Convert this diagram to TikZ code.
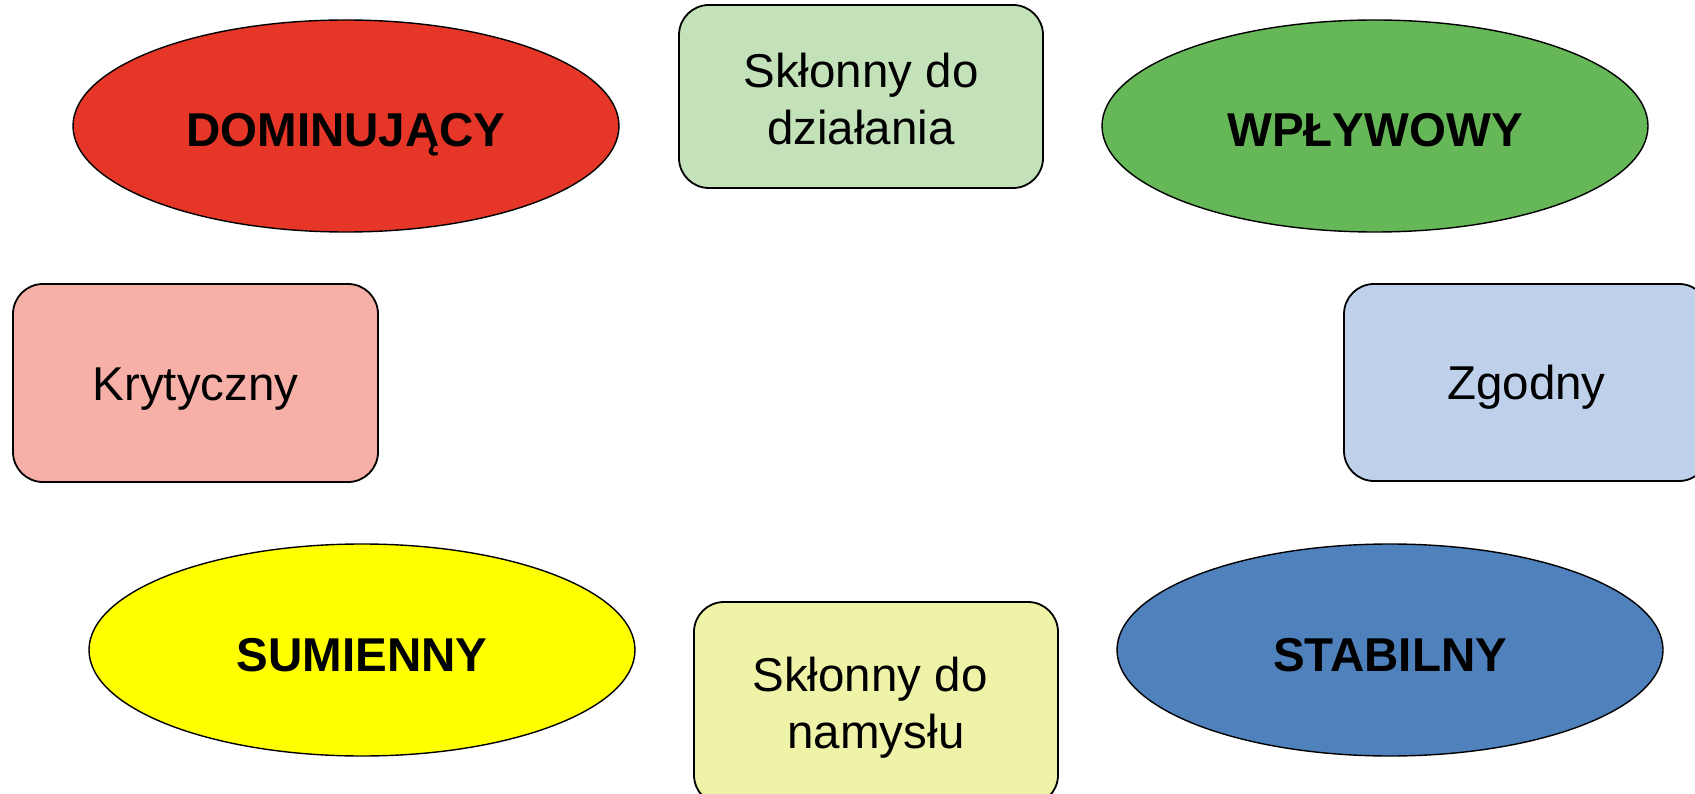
\documentclass[tikz,border=0pt]{standalone}
\usepackage{fontspec}
\setmainfont{Liberation Sans}
\usetikzlibrary{shapes.geometric}
\definecolor{domred}{RGB}{229,54,39}
\definecolor{infgreen}{RGB}{101,183,88}
\definecolor{sumyellow}{RGB}{255,255,0}
\definecolor{stabblue}{RGB}{79,129,189}
\definecolor{boxgreen}{RGB}{196,226,186}
\definecolor{boxred}{RGB}{246,176,168}
\definecolor{boxblue}{RGB}{190,208,234}
\definecolor{boxyellow}{RGB}{238,243,168}
\tikzset{
  typeoval/.style={ellipse, draw=black, line width=1.4pt, minimum width=546pt,
    minimum height=212pt, inner sep=0pt, text height=42pt, text depth=0pt,
    font=\fontsize{47.5}{57}\selectfont\bfseries},
  traitbox/.style={rectangle, rounded corners=30pt, draw=black, line width=1.8pt,
    inner sep=0pt, align=center, font=\fontsize{47.5}{57}\selectfont},
  oneline/.style={text height=34pt, text depth=0pt},
}
\begin{document}
\begin{tikzpicture}[x=1pt,y=-1pt]
\useasboundingbox (0,0) rectangle (1695,794);
% four behaviour types
\node[typeoval, fill=domred] (dom) at (346,126) {DOMINUJĄCY};
\node[typeoval, fill=infgreen] (inf) at (1375,126) {WPŁYWOWY};
\node[typeoval, fill=sumyellow] (sum) at (362,650) {SUMIENNY};
\node[typeoval, fill=stabblue] (stab) at (1390,650) {STABILNY};
% traits between the types
\node[traitbox, fill=boxgreen, minimum width=364pt, minimum height=183pt] (act) at (861,96.5) {};
\node[font=\fontsize{47.5}{57}\selectfont, align=center] (acttext) at (861,99) {Skłonny do\\działania};
\node[traitbox, oneline, fill=boxred, minimum width=365pt, minimum height=198pt] (crit) at (195.5,383) {Krytyczny};
\node[traitbox, oneline, fill=boxblue, minimum width=365pt, minimum height=197pt] (agree) at (1526.5,382.5) {Zgodny};
\node[traitbox, fill=boxyellow, minimum width=364pt, minimum height=203pt] (refl) at (876,703.5) {};
\node[font=\fontsize{47.5}{57}\selectfont, align=center] (refltext) at (870,708) {Skłonny do\\\hspace*{12pt}namysłu};
\end{tikzpicture}
\end{document}
